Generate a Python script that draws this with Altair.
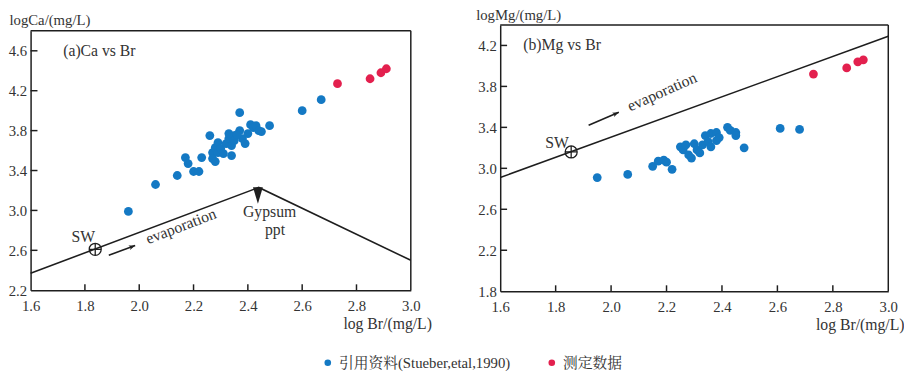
import altair as alt
import pandas as pd

# ---------------- data ----------------
series_names = ["引用资料(Stueber,etal,1990)", "测定数据"]
series_colors = ["#1479c4", "#e3204e"]

x_ticks = [1.6, 1.8, 2.0, 2.2, 2.4, 2.6, 2.8, 3.0]
ca_ticks = [2.2, 2.6, 3.0, 3.4, 3.8, 4.2, 4.6]
mg_ticks = [1.8, 2.2, 2.6, 3.0, 3.4, 3.8, 4.2]

# (a) Ca vs Br
ca_cited_br = [1.96, 2.06, 2.14, 2.17, 2.18, 2.20, 2.22, 2.23, 2.26, 2.27, 2.27, 2.28,
               2.28, 2.29, 2.29, 2.30, 2.31, 2.32, 2.33, 2.34, 2.34, 2.35, 2.35, 2.37,
               2.37, 2.38, 2.39, 2.40, 2.41, 2.42, 2.43, 2.44, 2.45, 2.48, 2.60, 2.67,
               2.33, 2.36]
ca_cited_ca = [2.99, 3.26, 3.35, 3.53, 3.47, 3.39, 3.39, 3.53, 3.75, 3.58, 3.52, 3.49,
               3.63, 3.68, 3.58, 3.62, 3.57, 3.67, 3.72, 3.55, 3.65, 3.70, 3.75, 3.98,
               3.80, 3.72, 3.67, 3.77, 3.86, 3.83, 3.85, 3.80, 3.79, 3.85, 4.00, 4.11,
               3.77, 3.76]
ca_meas_br = [2.73, 2.85, 2.89, 2.91]
ca_meas_ca = [4.27, 4.32, 4.38, 4.42]
ca_line_br = [1.6, 2.44, 3.0]
ca_line_ca = [2.37, 3.23, 2.50]

# (b) Mg vs Br
mg_cited_br = [1.95, 2.06, 2.15, 2.17, 2.19, 2.20, 2.22, 2.25, 2.26, 2.27, 2.28, 2.29,
               2.30, 2.31, 2.32, 2.33, 2.34, 2.35, 2.36, 2.36, 2.38, 2.38, 2.39, 2.42,
               2.43, 2.45, 2.45, 2.48, 2.61, 2.68]
mg_cited_mg = [2.91, 2.94, 3.02, 3.07, 3.08, 3.06, 2.99, 3.21, 3.18, 3.23, 3.13, 3.10,
               3.24, 3.18, 3.15, 3.23, 3.32, 3.26, 3.21, 3.34, 3.35, 3.27, 3.30, 3.40,
               3.37, 3.35, 3.32, 3.20, 3.39, 3.38]
mg_meas_br = [2.73, 2.85, 2.89, 2.91]
mg_meas_mg = [3.92, 3.98, 4.04, 4.06]
mg_line_br = [1.6, 3.0]
mg_line_mg = [2.91, 4.29]

# annotations
ca_sw = [1.838, 2.61]
mg_sw = [1.856, 3.16]
ca_arrow_br = [1.888, 1.985]
ca_arrow_ca = [2.551, 2.649]
mg_arrow_br = [1.919, 2.028]
mg_arrow_mg = [3.42, 3.547]
gyp_head = [2.437, 3.15]

FONT = "Liberation Serif"
LEG_FONT = 'Liberation Serif, "Noto Serif CJK SC", "Noto Sans CJK SC"'
TXT = "#333333"
INK = "#1e1e1e"

SW_PATH = "M-1,0A1,1,0,1,0,1,0A1,1,0,1,0,-1,0ZM-1,0L1,0M0,-1L0,1"
HEAD_PATH = "M0,0L-2,-0.75L-1.5,0L-2,0.75Z"
DOWN_PATH = "M-0.6,-1L0.6,-1L0,1Z"


def make_panel(cited_x, cited_y, meas_x, meas_y, line_x, line_y, ydom, yticks,
               ytitle, W, H, top, label, label_xy, sw, sw_txt, arrow_x, arrow_y,
               arrow_angle, evap_xy, evap_angle, ytitle_x, xtitle_x, extra=None):
    pts = pd.DataFrame({
        "x": cited_x + meas_x,
        "y": cited_y + meas_y,
        "s": [series_names[0]] * len(cited_x) + [series_names[1]] * len(meas_x),
    })
    xs = alt.Scale(domain=[1.6, 3.0], nice=False, zero=False)
    ys = alt.Scale(domain=ydom, nice=False, zero=False, range=[H, top])
    xax = alt.Axis(
        values=x_ticks, format=".1f", ticks=False, domain=True, domainColor=INK,
        domainWidth=1.5, grid=False,
        labelFont=FONT, labelFontSize=15, labelColor=TXT, labelPadding=9,
        labelFlush=False, labelOverlap=False,
        title="log Br/(mg/L)", titleFont=FONT, titleFontSize=16,
        titleFontWeight="normal", titleColor=TXT, titleAlign="right",
        titleX=W + xtitle_x, titleY=39, titleBaseline="alphabetic")
    yax = alt.Axis(
        values=yticks, format=".1f", ticks=False, domain=True, domainColor=INK,
        domainWidth=1.5, grid=False,
        labelFont=FONT, labelFontSize=15, labelColor=TXT, labelPadding=4,
        labelFlush=False, labelOverlap=False,
        title=ytitle, titleFont=FONT, titleFontSize=15, titleFontWeight="normal",
        titleColor=TXT, titleAngle=0, titleAlign="left", titleX=ytitle_x,
        titleY=top - 6, titleBaseline="alphabetic")
    X = alt.X("x:Q", scale=xs, axis=xax)
    Y = alt.Y("y:Q", scale=ys, axis=yax)

    points = alt.Chart(pts).mark_circle(size=80, opacity=1).encode(
        x=X, y=Y,
        color=alt.Color("s:N", scale=alt.Scale(domain=series_names, range=series_colors),
                        legend=alt.Legend(orient="none", legendX=295, legendY=336,
                                          direction="horizontal", title=None,
                                          labelFont=LEG_FONT, labelFontSize=15,
                                          labelColor=TXT, symbolType="circle",
                                          symbolSize=45, labelLimit=0,
                                          columnPadding=34, symbolOffset=0)),
    )

    # frame: top and right edges drawn at the domain limits
    frame_top = alt.Chart(pd.DataFrame({"x": [1.6], "x2": [3.0], "y": [ydom[1]]})).mark_rule(
        color=INK, strokeWidth=1.5).encode(x=X, x2="x2:Q", y=Y)
    frame_right = alt.Chart(pd.DataFrame({"x": [3.0], "y": [ydom[0]], "y2": [ydom[1]]})).mark_rule(
        color=INK, strokeWidth=1.5).encode(x=X, y=Y, y2="y2:Q")

    line = alt.Chart(pd.DataFrame({"x": line_x, "y": line_y, "o": list(range(len(line_x)))})).mark_line(
        color=INK, strokeWidth=1.6).encode(x=X, y=Y, order="o:O")

    xt = alt.Chart(pd.DataFrame({"x": x_ticks[1:-1]})).mark_rule(color=INK, strokeWidth=1.5).encode(
        x=X, y=alt.value(H), y2=alt.value(H - 6))
    yt = alt.Chart(pd.DataFrame({"y": yticks[1:]})).mark_rule(color=INK, strokeWidth=1.5).encode(
        y=Y, x=alt.value(0), x2=alt.value(7))

    sw_df = pd.DataFrame({"x": [sw[0]], "y": [sw[1]]})
    swm = alt.Chart(sw_df).mark_point(shape=SW_PATH, size=150, filled=False, color=INK,
                                      strokeWidth=1.3, opacity=1).encode(x=X, y=Y)

    lab = alt.Chart(pd.DataFrame({"x": [label_xy[0]], "y": [label_xy[1]], "t": [label]})).mark_text(
        font=FONT, fontSize=16, color=TXT, align="left").encode(x=X, y=Y, text="t:N")
    swt = alt.Chart(pd.DataFrame({"x": [sw_txt[0]], "y": [sw_txt[1]], "t": ["SW"]})).mark_text(
        font=FONT, fontSize=16, color=TXT, align="center").encode(x=X, y=Y, text="t:N")

    ev = alt.Chart(pd.DataFrame({"x": [evap_xy[0]], "y": [evap_xy[1]], "t": ["evaporation"]})).mark_text(
        font=FONT, fontSize=16, color=TXT, angle=evap_angle).encode(x=X, y=Y, text="t:N")

    arr = alt.Chart(pd.DataFrame({"x": arrow_x, "y": arrow_y})).mark_line(color=INK, strokeWidth=1.6).encode(
        x=X, y=Y)
    head = alt.Chart(pd.DataFrame({"x": [arrow_x[1]], "y": [arrow_y[1]]})).mark_point(
        shape=HEAD_PATH, size=42, filled=True, color=INK, opacity=1, angle=arrow_angle).encode(
        x=X, y=Y)

    layers = [points, frame_top, frame_right, line, xt, yt, swm, lab, swt, ev, arr, head]
    if extra:
        layers += extra(X, Y)
    return alt.layer(*layers).properties(width=W, height=H)


def gypsum(X, Y):
    h = alt.Chart(pd.DataFrame({"x": [gyp_head[0]], "y": [gyp_head[1]]})).mark_point(
        shape=DOWN_PATH, size=280, filled=True, color=INK, opacity=1).encode(x=X, y=Y)
    t = alt.Chart(pd.DataFrame({"x": [2.48, 2.50], "y": [2.98, 2.805], "t": ["Gypsum", "ppt"]})).mark_text(
        font=FONT, fontSize=16, color=TXT).encode(x=X, y=Y, text="t:N")
    return [h, t]


left = make_panel(ca_cited_br, ca_cited_ca, ca_meas_br, ca_meas_ca, ca_line_br, ca_line_ca,
                  [2.2, 4.8], ca_ticks, "logCa/(mg/L)", 387, 270, 6, "(a)Ca vs Br", [1.72, 4.6],
                  ca_sw, [1.794, 2.73], ca_arrow_br, ca_arrow_ca, 339, [2.154, 2.84], 339,
                  -22, 21, extra=gypsum)
right = make_panel(mg_cited_br, mg_cited_mg, mg_meas_br, mg_meas_mg, mg_line_br, mg_line_mg,
                   [1.8, 4.4], mg_ticks, "logMg/(mg/L)", 395, 271, 0, "(b)Mg vs Br", [1.683, 4.2],
                   mg_sw, [1.805, 3.25], mg_arrow_br, mg_arrow_mg, 336, [2.184, 3.746], 336,
                   -25, 16)

chart = alt.hconcat(left, right, spacing=45).properties(
    padding={"left": 0, "top": -4, "right": 0, "bottom": 0},
    background="white",
).configure_view(stroke=None)

chart.save("out.html", embed_options={"renderer": "svg", "actions": False})
